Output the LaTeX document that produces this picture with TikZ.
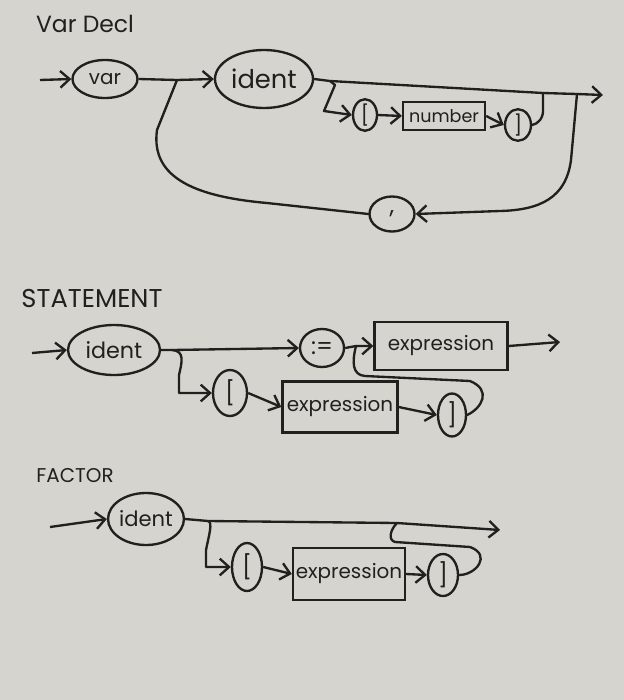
\documentclass[tikz,border=0pt]{standalone}
\usepackage{fontspec}
\setmainfont{Poppins}
\usetikzlibrary{shapes,arrows.meta,positioning,calc}

\definecolor{paper}{RGB}{214,212,206}
\definecolor{ink}{RGB}{34,32,31}

\begin{document}
\begin{tikzpicture}[
    x=0.03cm, y=-0.03cm,
    color=ink,
    term/.style={ellipse, draw=ink, line width=2pt, inner sep=0pt, font=\fontsize{17}{20}\selectfont},
    brk/.style={term, font=\fontsize{20}{22}\selectfont},
    rule/.style={rectangle, draw=ink, line width=2pt, inner sep=0pt, font=\fontsize{17}{20}\selectfont},
    heading/.style={font=\fontsize{20}{24}\selectfont},
    arrow/.style={-{Straight Barb[length=2.8mm, width=5mm]}, line width=2pt, line join=round},
    line/.style={line width=2pt, line cap=round, line join=round}
]

% Paper
\fill[paper] (0,0) rectangle (624,700);

% ---------------- Var Decl ----------------
\node[heading] (vtitle) at (85,24) {Var Decl};

\node[term, minimum width=1.95cm, minimum height=1.14cm] (vvar) at (105,79) {var};
\node[term, minimum width=2.94cm, minimum height=1.74cm, font=\fontsize{22}{26}\selectfont] (vident) at (264,79) {ident};
\node[brk, minimum width=0.72cm, minimum height=0.9cm, font=\fontsize{17}{20}\selectfont] (vlbrk) at (365,115) {[};
\node[rule, minimum width=2.46cm, minimum height=0.84cm, font=\fontsize{15}{18}\selectfont] (vnum) at (444,116) {number};
\node[brk, minimum width=0.78cm, minimum height=0.9cm, font=\fontsize{17}{20}\selectfont] (vrbrk) at (518,125) {]};
\node[brk, minimum width=1.35cm, minimum height=1.05cm] (vcomma) at (392,214) {,};

\coordinate (vin) at (40,80);
\coordinate (vsplit) at (177,80);
\coordinate (vfork) at (330,81);
\coordinate (vjoin) at (543,93);
\coordinate (vloop) at (577,94);
\coordinate (vout) at (603,95);

\draw[arrow] (vin) -- (vvar.west);
\draw[arrow] (vvar.east) -- (vsplit) -- (vident.west);
\draw[arrow] (vident.east) -- (vfork) -- (vjoin) -- (vloop) -- (vout);
\draw[arrow] (vfork) -- (335,85) -- (324,111) -- (vlbrk.west);
\draw[arrow] (vlbrk.east) -- (vnum.west);
\draw[arrow] (vnum.east) -- (vrbrk.west);
\draw[line] (vrbrk.east) .. controls (538,124) and (544,118) .. (543,108) -- (vjoin);

% loop back through the comma
\draw[arrow] (vloop) -- (571,160) .. controls (566,198) and (540,210) .. (500,211) -- (vcomma.east);
\draw[line] (vcomma.west) -- (267,203) .. controls (200,197) and (150,180) .. (157,130) -- (vsplit);

% ---------------- STATEMENT ----------------
\node[heading, font=\fontsize{22}{26}\selectfont] (stitle) at (92,298) {STATEMENT};

\node[term, minimum width=2.76cm, minimum height=1.5cm, font=\fontsize{19}{22}\selectfont] (sident) at (114,350) {ident};
\node[brk, minimum width=1.32cm, minimum height=1.14cm] (sassign) at (322,348) {:=};
\node[rule, minimum width=3.99cm, minimum height=1.44cm] (sexpa) at (441,346) {expression};
\node[brk, minimum width=1.02cm, minimum height=1.38cm] (slbrk) at (230,393) {[};
\node[rule, minimum width=3.45cm, minimum height=1.53cm] (sexpb) at (340,407) {expression};
\node[brk, minimum width=0.84cm, minimum height=1.29cm] (srbrk) at (452,415) {]};

\coordinate (sin) at (32,353);
\coordinate (ssplit) at (172,350);
\coordinate (smerge) at (356,346);
\coordinate (sout) at (560,342);

\draw[arrow] (sin) -- (sident.west);
\draw[arrow] (sident.east) -- (ssplit) -- (sassign.west);
\draw[arrow] (sassign.east) -- (smerge) -- (sexpa.west);
\draw[arrow] (sexpa.east) -- (sout);
\draw[arrow] (ssplit) .. controls (185,351) and (182,362) .. (179,375) |- (slbrk.west);
\draw[arrow] (slbrk.east) -- (sexpb.west);
\draw[arrow] (sexpb.east) -- (srbrk.west);
\draw[line] (srbrk.east) .. controls (482,408) and (492,390) .. (470,381) -- (365,376) .. controls (352,375) and (352,362) .. (smerge);

% ---------------- FACTOR ----------------
\node[heading, font=\fontsize{17}{20}\selectfont] (ftitle) at (75,476) {FACTOR};

\node[term, minimum width=2.25cm, minimum height=1.56cm, font=\fontsize{18}{21}\selectfont] (fident) at (146,519) {ident};
\node[brk, minimum width=0.9cm, minimum height=1.44cm] (flbrk) at (247,567) {[};
\node[rule, minimum width=3.36cm, minimum height=1.56cm] (fexp) at (349,574) {expression};
\node[brk, minimum width=0.9cm, minimum height=1.26cm] (frbrk) at (443,575) {]};

\coordinate (fin) at (50,527);
\coordinate (fsplit) at (208,521);
\coordinate (fjoin) at (397,523);
\coordinate (fout) at (500,530);

\draw[arrow] (fin) -- (fident.west);
\draw[arrow] (fident.east) -- (fsplit) -- (fjoin) -- (fout);
\draw[arrow] (fsplit) .. controls (213,522) and (209,535) .. (206,550) |- (flbrk.west);
\draw[arrow] (flbrk.east) -- (fexp.west);
\draw[arrow] (fexp.east) -- (frbrk.west);
\draw[line] (frbrk.east) .. controls (476,575) and (492,555) .. (470,547) -- (395,542) .. controls (388,540) and (390,530) .. (fjoin);

\end{tikzpicture}
\end{document}
